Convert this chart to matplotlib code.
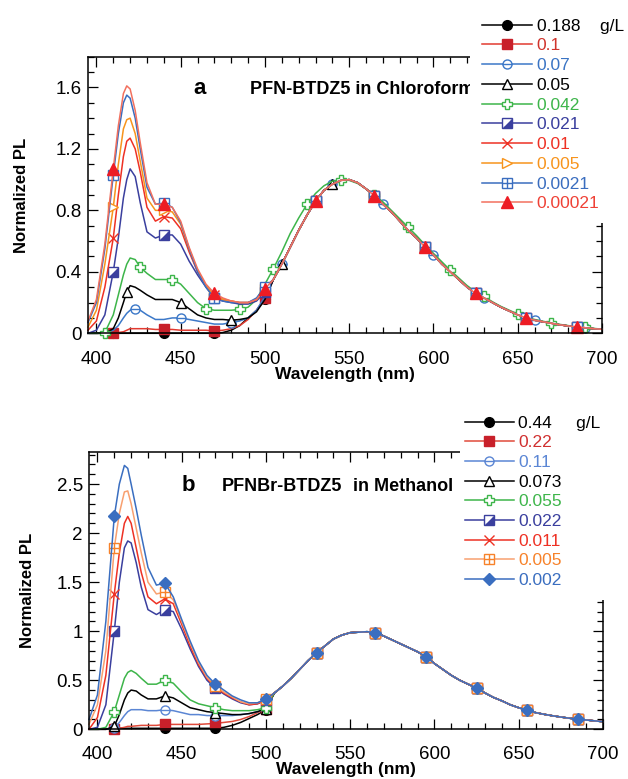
import numpy as np
import matplotlib
matplotlib.use("Agg")
import matplotlib.pyplot as plt
from matplotlib.patches import Rectangle
from matplotlib.legend_handler import HandlerTuple
from matplotlib.ticker import MultipleLocator, FuncFormatter

plt.rcParams['font.family'] = ['Liberation Sans', 'DejaVu Sans']

# ---------------- data ----------------
short_wl = [395, 400, 405, 410, 413, 416, 418, 420, 423, 426, 430, 435, 440,
            445, 450, 455, 460, 465, 470, 475, 480, 485, 490, 495, 500]
band_wl = list(range(505, 701, 5))

# panel a (chloroform) short-wavelength part, 395-500 nm
a_0188 = [0, 0, 0, 0, 0, 0, 0, 0, 0, 0, 0, 0, 0, 0, 0, 0, 0, 0, 0, 0.005, 0.02, 0.05, 0.1, 0.15, 0.22]
a_01 = [0, 0, 0, 0, 0.005, 0.01, 0.02, 0.03, 0.03, 0.03, 0.03, 0.025, 0.025, 0.025, 0.02, 0.02, 0.02, 0.02, 0.015, 0.02, 0.03, 0.05, 0.09, 0.15, 0.23]
a_007 = [0, 0, 0, 0.02, 0.05, 0.1, 0.13, 0.15, 0.16, 0.15, 0.12, 0.09, 0.09, 0.1, 0.1, 0.09, 0.08, 0.07, 0.06, 0.06, 0.07, 0.08, 0.1, 0.15, 0.24]
a_005 = [0, 0, 0, 0.03, 0.1, 0.2, 0.27, 0.31, 0.3, 0.28, 0.25, 0.22, 0.22, 0.22, 0.2, 0.16, 0.12, 0.1, 0.09, 0.09, 0.085, 0.09, 0.1, 0.14, 0.22]
a_0042 = [0, 0, 0.005, 0.12, 0.25, 0.38, 0.45, 0.49, 0.48, 0.43, 0.39, 0.35, 0.35, 0.35, 0.32, 0.26, 0.2, 0.16, 0.15, 0.15, 0.15, 0.155, 0.17, 0.22, 0.32]
a_0021 = [0, 0.02, 0.12, 0.4, 0.62, 0.88, 1.0, 1.07, 1.02, 0.85, 0.66, 0.62, 0.64, 0.64, 0.58, 0.47, 0.38, 0.3, 0.23, 0.21, 0.2, 0.19, 0.19, 0.21, 0.27]
a_001 = [0.02, 0.08, 0.3, 0.62, 0.9, 1.15, 1.25, 1.27, 1.2, 1.05, 0.82, 0.73, 0.76, 0.75, 0.68, 0.53, 0.4, 0.31, 0.25, 0.22, 0.21, 0.2, 0.2, 0.22, 0.28]
a_0005 = [0.04, 0.15, 0.45, 0.82, 1.1, 1.33, 1.39, 1.4, 1.3, 1.12, 0.88, 0.8, 0.8, 0.79, 0.71, 0.55, 0.41, 0.31, 0.25, 0.22, 0.21, 0.2, 0.2, 0.22, 0.29]
a_00021 = [0.07, 0.2, 0.55, 1.03, 1.3, 1.5, 1.55, 1.53, 1.4, 1.2, 0.95, 0.84, 0.85, 0.82, 0.72, 0.55, 0.4, 0.3, 0.23, 0.21, 0.2, 0.2, 0.2, 0.23, 0.3]
a_000021 = [0.08, 0.22, 0.58, 1.07, 1.35, 1.56, 1.61, 1.59, 1.45, 1.24, 0.98, 0.84, 0.84, 0.82, 0.73, 0.56, 0.42, 0.32, 0.26, 0.23, 0.21, 0.2, 0.2, 0.22, 0.29]

# panel a green emission band, 505-700 nm
a_band = [0.35, 0.45, 0.56, 0.67, 0.77, 0.86, 0.93, 0.97, 0.995, 1.0, 0.98, 0.94, 0.895, 0.84, 0.79, 0.73,
          0.67, 0.62, 0.56, 0.51, 0.45, 0.40, 0.35, 0.30, 0.26, 0.23, 0.20, 0.17, 0.145, 0.12, 0.10,
          0.085, 0.075, 0.065, 0.055, 0.048, 0.042, 0.036, 0.03, 0.026]
a_band_0042 = [0.42, 0.53, 0.65, 0.75, 0.84, 0.91, 0.96, 0.99, 1.0, 0.995, 0.975, 0.94, 0.9, 0.855, 0.8,
               0.745, 0.69, 0.635, 0.575, 0.52, 0.465, 0.41, 0.36, 0.31, 0.27, 0.24, 0.205, 0.175,
               0.15, 0.125, 0.105, 0.09, 0.078, 0.068, 0.058, 0.05, 0.044, 0.038, 0.032, 0.027]

# panel b (methanol) short-wavelength part, 395-500 nm
b_044 = [0, 0, 0, 0.01, 0.01, 0.01, 0.01, 0.01, 0.01, 0.01, 0.01, 0.01, 0.01, 0.01, 0.01, 0.01, 0.01, 0.01, 0.01, 0.02, 0.04, 0.07, 0.11, 0.15, 0.2]
b_022 = [0, 0, 0, 0, 0.01, 0.02, 0.03, 0.03, 0.035, 0.04, 0.04, 0.04, 0.05, 0.05, 0.05, 0.05, 0.05, 0.055, 0.06, 0.07, 0.08, 0.1, 0.13, 0.17, 0.21]
b_011 = [0, 0, 0, 0.01, 0.07, 0.14, 0.18, 0.2, 0.2, 0.2, 0.19, 0.19, 0.2, 0.19, 0.17, 0.15, 0.15, 0.14, 0.14, 0.14, 0.14, 0.15, 0.16, 0.18, 0.21]
b_0073 = [0, 0, 0, 0.03, 0.15, 0.3, 0.37, 0.4, 0.39, 0.35, 0.31, 0.31, 0.34, 0.32, 0.27, 0.22, 0.2, 0.18, 0.17, 0.16, 0.15, 0.15, 0.16, 0.18, 0.21]
b_0055 = [0, 0, 0.02, 0.18, 0.35, 0.52, 0.58, 0.6, 0.57, 0.52, 0.46, 0.46, 0.5, 0.47, 0.38, 0.3, 0.26, 0.24, 0.22, 0.2, 0.19, 0.19, 0.19, 0.2, 0.22]
b_0022 = [0, 0.02, 0.25, 1.0, 1.5, 1.85, 1.92, 1.9, 1.7, 1.45, 1.22, 1.17, 1.22, 1.2, 1.02, 0.82, 0.64, 0.5, 0.42, 0.36, 0.31, 0.27, 0.25, 0.26, 0.3]
b_0011 = [0, 0.12, 0.55, 1.38, 1.8, 2.1, 2.17, 2.1, 1.85, 1.6, 1.35, 1.28, 1.33, 1.28, 1.07, 0.85, 0.66, 0.52, 0.43, 0.37, 0.32, 0.28, 0.25, 0.26, 0.3]
b_0005 = [0.05, 0.25, 0.8, 1.85, 2.2, 2.42, 2.43, 2.3, 2.05, 1.8, 1.5, 1.38, 1.4, 1.32, 1.1, 0.88, 0.68, 0.53, 0.44, 0.38, 0.33, 0.28, 0.26, 0.27, 0.31]
b_0002 = [0.1, 0.35, 1.1, 2.17, 2.5, 2.69, 2.66, 2.5, 2.25, 1.98, 1.65, 1.47, 1.49, 1.35, 1.12, 0.9, 0.7, 0.55, 0.46, 0.4, 0.34, 0.3, 0.27, 0.27, 0.31]

# panel b green emission band, 505-700 nm
b_band = [0.37, 0.44, 0.52, 0.61, 0.7, 0.78, 0.85, 0.92, 0.96, 0.985, 0.99, 0.995, 0.985, 0.95, 0.91, 0.87,
          0.83, 0.79, 0.74, 0.67, 0.61, 0.55, 0.5, 0.46, 0.42, 0.37, 0.325, 0.29, 0.25, 0.22, 0.195,
          0.17, 0.153, 0.138, 0.125, 0.113, 0.104, 0.095, 0.086, 0.078]

a_labels = ['0.188', '0.1', '0.07', '0.05', '0.042', '0.021', '0.01', '0.005', '0.0021', '0.00021']
b_labels = ['0.44', '0.22', '0.11', '0.073', '0.055', '0.022', '0.011', '0.005', '0.002']

wavelength = np.array(short_wl + band_wl, dtype=float)

a_series = [a_0188 + a_band, a_01 + a_band, a_007 + a_band, a_005 + a_band, a_0042 + a_band_0042,
            a_0021 + a_band, a_001 + a_band, a_0005 + a_band, a_00021 + a_band, a_000021 + a_band]
b_series = [b_044 + b_band, b_022 + b_band, b_011 + b_band, b_0073 + b_band, b_0055 + b_band,
            b_0022 + b_band, b_0011 + b_band, b_0005 + b_band, b_0002 + b_band]

# ---------------- styles ----------------
std_marks = [410, 440, 470, 500, 530, 565, 595, 625, 655, 685]
half_sq = [(-1, -1), (1, -1), (1, 1)]

# (line color, marker color, text color, marker, face, overlay marker, markersize, mark positions)
a_styles = [
    ('#000000', '#000000', '#000000', 'o', 'full', None, 7, std_marks),
    ('#e23a30', '#c8202a', '#d0342c', 's', 'full', None, 7, std_marks),
    ('#3c78c8', '#3c78c8', '#3a74c4', 'o', 'white', '_', 6.5,
     [423, 450, 480, 510, 540, 570, 600, 630, 660, 690]),
    ('#000000', '#000000', '#000000', '^', 'white', None, 6.5,
     [418, 450, 480, 510, 540, 565, 595, 625, 655, 685]),
    ('#3db54a', '#3db54a', '#3db54a', 'P', 'white', None, 7.5,
     [405, 426, 445, 465, 485, 505, 525, 545, 565, 585, 610, 630, 650, 670, 690]),
    ('#3a3f9e', '#3a3f9e', '#3a3f9e', 's', 'white', 'half', 6.5, std_marks),
    ('#ee3124', '#ee3124', '#ee3124', 'x', 'full', None, 6.5, std_marks),
    ('#f7941d', '#f7941d', '#f7941d', '>', 'white', None, 6.5, std_marks),
    ('#3a6dbf', '#3a6dbf', '#3a6dbf', 's', 'white', '+', 6.5, std_marks),
    ('#f2705e', '#ed1c24', '#ef4136', '^', 'full', None, 8, std_marks),
]
b_styles = [
    ('#000000', '#000000', '#000000', 'o', 'full', None, 7, std_marks),
    ('#e04a3a', '#c8202a', '#d03030', 's', 'full', None, 7, std_marks),
    ('#5b86d4', '#5b86d4', '#5b86d4', 'o', 'white', '_', 6.5, std_marks),
    ('#000000', '#000000', '#000000', '^', 'white', None, 6.5, std_marks),
    ('#3db54a', '#3db54a', '#3db54a', 'P', 'white', None, 7.5, std_marks),
    ('#3a3f9e', '#3a3f9e', '#3a3f9e', 's', 'white', 'half', 6.5, std_marks),
    ('#ee3124', '#ee3124', '#ee3124', 'x', 'full', None, 6.5, std_marks),
    ('#f8a070', '#f7822a', '#f7822a', 's', 'white', '+', 7, std_marks),
    ('#3a6ec0', '#3a6ec0', '#3a6ec0', 'D', 'full', None, 6.5, std_marks),
]

W, H = 628, 779
fig = plt.figure(figsize=(W / 100, H / 100), dpi=100)


def px_axes(l, t, r, b):
    return fig.add_axes([l / W, 1 - b / H, (r - l) / W, (b - t) / H])


def draw_panel(ax, series, styles):
    handles = []
    for vals, st in zip(series, styles):
        lc, mc, tc, mk, face, ov, ms, marks = st
        idx = [int(np.argmin(np.abs(wavelength - m))) for m in marks]
        mfc = mc if face == 'full' else 'white'
        ln, = ax.plot(wavelength, vals, color=lc, lw=1.1, marker=mk, markevery=idx,
                      ms=ms, mfc=mfc, mec=mc, mew=1.0, clip_on=False)
        h = ln
        if ov is not None:
            ovm = half_sq if ov == 'half' else ov
            oms = ms if ov != 'half' else ms * 0.97
            o, = ax.plot(wavelength, vals, ls='none', marker=ovm, markevery=idx,
                         ms=oms, mfc=mc, mec=mc, mew=1.0, clip_on=False)
            h = (ln, o)
        handles.append(h)
    ax.set_xlim(395, 700)
    ax.xaxis.set_major_locator(MultipleLocator(50))
    ax.xaxis.set_minor_locator(MultipleLocator(10))
    ax.tick_params(which='both', direction='in', top=True, right=True, width=0.9,
                   labelsize=13.5)
    ax.tick_params(which='major', length=7.5)
    ax.tick_params(which='minor', length=4.5)
    ax.tick_params(axis='y', which='major', pad=4.5)
    ax.yaxis.set_major_formatter(FuncFormatter(lambda v, p: '%g' % v))
    for s in ax.spines.values():
        s.set_linewidth(1.1)
    ax.set_xlabel('Wavelength (nm)', fontsize=12.5, fontweight='bold')
    ax.set_ylabel('Normalized PL', fontsize=12, fontweight='bold')
    return handles


# panel a
ax1 = px_axes(88, 56.7, 602, 333.3)
h1 = draw_panel(ax1, a_series, a_styles)
ax1.set_ylim(0, 1.8)
ax1.yaxis.set_major_locator(MultipleLocator(0.4))
ax1.yaxis.set_minor_locator(MultipleLocator(0.1))
ax1.tick_params(axis='x', which='major', pad=13)
ax1.xaxis.set_label_coords(0.5, -0.121)
ax1.yaxis.set_label_coords(-0.114, 0.5)

# panel b
ax2 = px_axes(89, 451.7, 603, 729.3)
h2 = draw_panel(ax2, b_series, b_styles)
ax2.set_ylim(0, 2.83)
ax2.yaxis.set_major_locator(MultipleLocator(0.5))
ax2.yaxis.set_minor_locator(MultipleLocator(0.1))
ax2.tick_params(axis='x', which='major', pad=12)
ax2.xaxis.set_label_coords(0.5, -0.116)
ax2.yaxis.set_label_coords(-0.106, 0.5)

# panel titles
fig.text(193 / W, 1 - 94.5 / H, 'a', fontsize=16, fontweight='bold', va='baseline')
fig.text(250 / W, 1 - 94.5 / H, 'PFN-BTDZ5 in Chloroform', fontsize=13, fontweight='bold', va='baseline')
fig.text(182 / W, 1 - 491 / H, 'b', fontsize=16, fontweight='bold', va='baseline')
fig.text(222 / W, 1 - 491 / H, 'PFNBr-BTDZ5', fontsize=13, fontweight='bold', va='baseline')
fig.text(353 / W, 1 - 491 / H, 'in Methanol', fontsize=13, fontweight='bold', va='baseline')

# white legend areas covering the axes corner
fig.add_artist(Rectangle((470 / W, 1 - 223 / H), (W - 470) / W, 223 / H, transform=fig.transFigure,
                         facecolor='white', edgecolor='none', zorder=4))
fig.add_artist(Rectangle((460 / W, 1 - 600 / H), (W - 460) / W, 200 / H, transform=fig.transFigure,
                         facecolor='white', edgecolor='none', zorder=4))

a_leg_labels = [a_labels[0] + '    g/L'] + a_labels[1:]
b_leg_labels = [b_labels[0] + '     g/L'] + b_labels[1:]

leg1 = fig.legend(h1, a_leg_labels, loc='upper left', bbox_to_anchor=(482 / W, 1 - 18.5 / H),
                  frameon=False, borderpad=0, borderaxespad=0, handlelength=2.9, handletextpad=0.25,
                  labelspacing=0.265, fontsize=12.5, numpoints=1,
                  handler_map={tuple: HandlerTuple(ndivide=1)})
for t, st in zip(leg1.get_texts(), a_styles):
    t.set_color(st[2])
leg1.set_zorder(6)

leg2 = fig.legend(h2, b_leg_labels, loc='upper left', bbox_to_anchor=(465 / W, 1 - 415.5 / H),
                  frameon=False, borderpad=0, borderaxespad=0, handlelength=2.8, handletextpad=0.25,
                  labelspacing=0.26, fontsize=12.5, numpoints=1,
                  handler_map={tuple: HandlerTuple(ndivide=1)})
for t, st in zip(leg2.get_texts(), b_styles):
    t.set_color(st[2])
leg2.set_zorder(6)

fig.savefig('out.png', dpi=100)
